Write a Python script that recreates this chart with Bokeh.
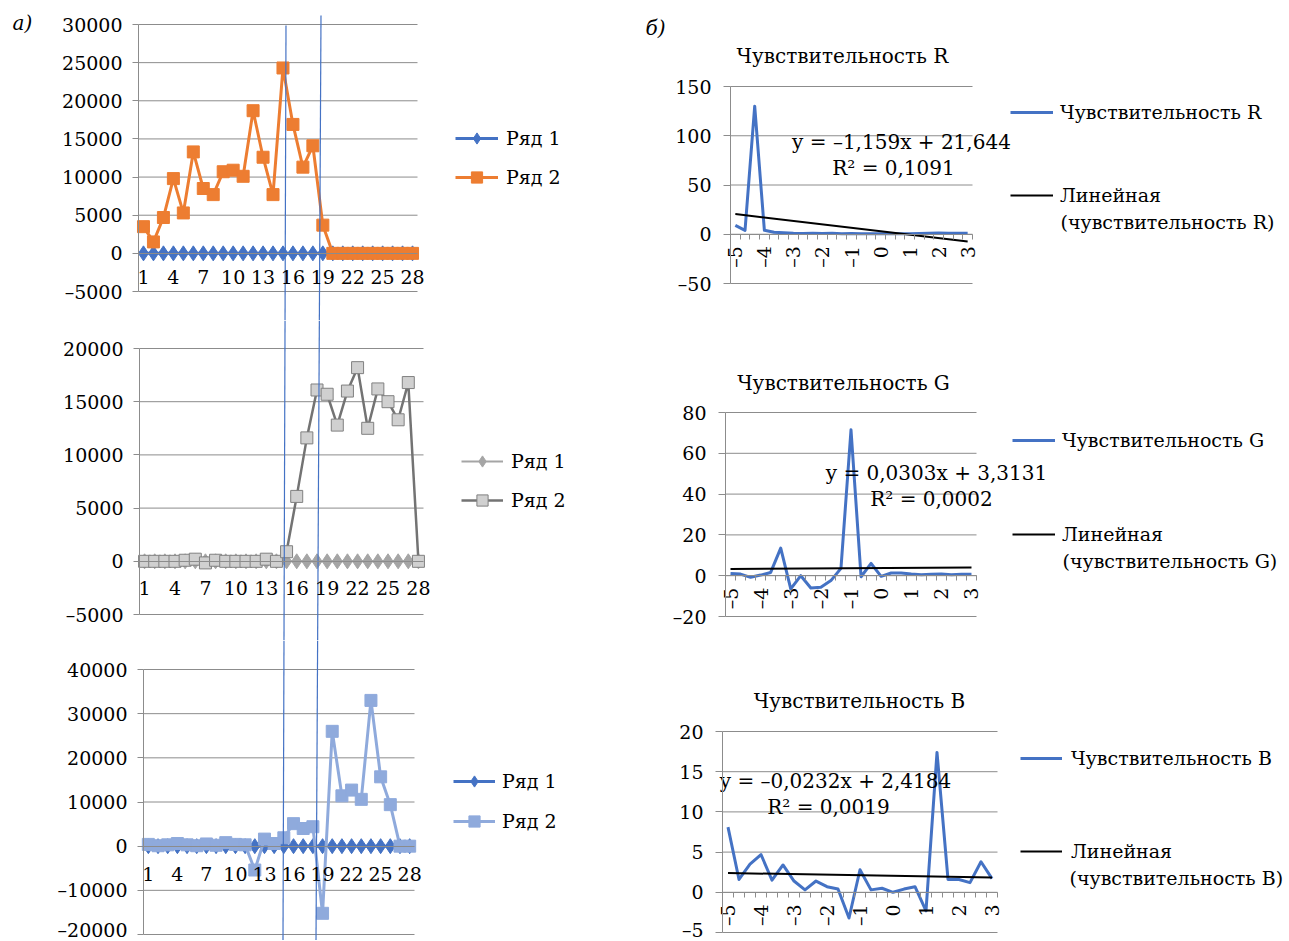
import math
from bokeh.plotting import figure
from bokeh.models import Range1d, FixedTicker, LinearAxis, Legend, LegendItem
from bokeh.layouts import row, column
from bokeh.embed import file_html
from bokeh.resources import INLINE
from bokeh.core.properties import value

# ------------------------------------------------------------------ data
row_categories = [1, 2, 3, 4, 5, 6, 7, 8, 9, 10, 11, 12, 13, 14,
                  15, 16, 17, 18, 19, 20, 21, 22, 23, 24, 25, 26, 27, 28]
row_ticks = [1, 4, 7, 10, 13, 16, 19, 22, 25, 28]
series_names = ["Ряд 1", "Ряд 2"]

a1_ticks = [-5000, 0, 5000, 10000, 15000, 20000, 25000, 30000]
a1_labels = ["–5000", "0", "5000", "10000", "15000", "20000", "25000", "30000"]
a1_row1 = [0, 0, 0, 0, 0, 0, 0, 0, 0, 0, 0, 0, 0, 0,
           0, 0, 0, 0, 0, 0, 0, 0, 0, 0, 0, 0, 0, 0]
a1_row2 = [3500, 1500, 4700, 9800, 5300, 13300, 8500, 7700, 10700, 10900, 10100, 18700, 12600, 7700,
           24300, 16900, 11300, 14100, 3700, 0, 0, 0, 0, 0, 0, 0, 0, 0]

a2_ticks = [-5000, 0, 5000, 10000, 15000, 20000]
a2_labels = ["–5000", "0", "5000", "10000", "15000", "20000"]
a2_row1 = [0, 0, 0, 0, 0, 0, 0, 0, 0, 0, 0, 0, 0, 0,
           0, 0, 0, 0, 0, 0, 0, 0, 0, 0, 0, 0, 0, 0]
a2_row2 = [0, 0, 0, 0, 100, 200, -150, 100, 0, 0, 0, 0, 200, 0,
           900, 6100, 11600, 16100, 15700, 12800, 16000, 18200, 12500, 16200, 15000, 13300, 16800, 0]

a3_ticks = [-20000, -10000, 0, 10000, 20000, 30000, 40000]
a3_labels = ["–20000", "–10000", "0", "10000", "20000", "30000", "40000"]
a3_row1 = [0, 0, 0, 0, 0, 0, 0, 0, 0, 0, 0, 0, 0, 0,
           0, 0, 0, 0, 0, 0, 0, 0, 0, 0, 0, 0, 0, 0]
a3_row2 = [400, 100, 300, 600, 300, 100, 500, 200, 800, 400, 300, -5400, 1600, 600,
           1900, 5100, 4000, 4400, -15200, 26000, 11400, 12700, 10600, 33000, 15700, 9400, 0, 0]

sens_categories = [1, 2, 3, 4, 5, 6, 7, 8, 9, 10, 11, 12, 13,
                   14, 15, 16, 17, 18, 19, 20, 21, 22, 23, 24, 25]
sens_tick_pos = [1, 4, 7, 10, 13, 16, 19, 22, 25]
sens_tick_labels = ["–5", "–4", "–3", "–2", "–1", "0", "1", "2", "3"]
sens_titles = ["Чувствительность R", "Чувствительность G", "Чувствительность B"]
trend_names = ["Линейная", "Линейная", "Линейная"]
trend_notes = ["(чувствительность R)", "(чувствительность G)", "(чувствительность B)"]

sens_R = [9, 4, 130, 4, 2, 1.5, 1, 0.8, 1, 0.7, 0.9, 0.6, 0.8,
          0.5, 0.6, 0.5, 0.4, 0.5, 0.6, 0.7, 0.9, 1.2, 1, 0.9, 1]
sens_G = [1.1, 0.8, -0.8, 0.3, 1.6, 13.5, -6.5, 0, -6, -5.7, -2.4, 3.6, 71.5,
          -0.5, 6, -0.3, 1.3, 1.3, 0.8, 0.5, 0.7, 0.8, 0.5, 0.7, 0.7]
sens_B = [8.1, 1.6, 3.5, 4.7, 1.5, 3.4, 1.4, 0.3, 1.4, 0.7, 0.4, -3.2, 2.8,
          0.3, 0.5, 0, 0.4, 0.7, -2.3, 17.4, 1.6, 1.6, 1.2, 3.8, 1.7]

trend_R = (-1.159, 21.644)
trend_G = (0.0303, 3.3131)
trend_B = (-0.0232, 2.4184)
eq_texts = ["y = –1,159x + 21,644", "y = 0,0303x + 3,3131", "y = –0,0232x + 2,4184"]
r2_texts = ["R² = 0,1091", "R² = 0,0002", "R² = 0,0019"]

r_ticks = [-50, 0, 50, 100, 150]
r_labels = ["–50", "0", "50", "100", "150"]
g_ticks = [-20, 0, 20, 40, 60, 80]
g_labels = ["–20", "0", "20", "40", "60", "80"]
b_ticks = [-5, 0, 5, 10, 15, 20]
b_labels = ["–5", "0", "5", "10", "15", "20"]

panel_marks = ["а)", "б)"]

# ------------------------------------------------------------------ style / layout
FONT = "DejaVu Serif"
FS_AX = "19px"
FS_TX = "20px"
FS_LEG = "19px"
GRID = "#8c8c8c"
BLUE = "#4472C4"

# hand-drawn vertical guide lines (screen coordinates of their ends)
MARK_LINES = [((285.5, 25), (282.5, 941)), ((320.5, 15), (315.5, 941))]


def make_panel(box, area, xlim, ylim):
    bx0, by0, bx1, by1 = box
    px0, pyt, px1, pyb = area
    (x0, x1), (y0, y1) = xlim, ylim
    kx = (x1 - x0) / (px1 - px0)
    ky = (y1 - y0) / (pyb - pyt)
    xs, xe = x0 - (px0 - bx0) * kx, x1 + (bx1 - px1) * kx
    ys, ye = y0 - (by1 - pyb) * ky, y1 + (pyt - by0) * ky
    p = figure(width=bx1 - bx0, height=by1 - by0,
               x_range=Range1d(xs, xe), y_range=Range1d(ys, ye),
               x_axis_location=None, y_axis_location=None, title=None,
               toolbar_location=None, output_backend="svg", min_border=0,
               outline_line_color=None, background_fill_color="white",
               border_fill_color="white")
    p.xgrid.visible = False
    p.ygrid.visible = False

    def to_data(sx, sy):
        return xs + (sx - bx0) * kx, ye - (sy - by0) * ky

    return p, dict(frame_left=bx0, frame_bottom=by1, to_data=to_data, box=box)


def add_y_axis(p, x_at, ticks, labels, bounds, tick_out, standoff):
    ax = LinearAxis(ticker=FixedTicker(ticks=ticks), bounds=bounds, fixed_location=x_at,
                    major_label_overrides=dict(zip(ticks, labels)),
                    axis_line_color=GRID, major_tick_line_color=GRID,
                    major_tick_out=tick_out, major_tick_in=0,
                    minor_tick_line_color=None, major_label_standoff=standoff,
                    major_label_text_font=FONT, major_label_text_font_size=FS_AX,
                    major_label_text_color="black")
    p.add_layout(ax, "left")


def add_legend(p, g, items, left, first_center, step, glyph_w, standoff, item_h=28):
    n = len(items)
    spacing = step - item_h
    top = first_center - item_h / 2
    height = n * item_h + (n - 1) * spacing
    leg = Legend(items=items,
                 location=(left - g["frame_left"], g["frame_bottom"] - (top + height)),
                 orientation="vertical", glyph_width=glyph_w, glyph_height=item_h,
                 label_height=item_h, label_width=10, label_standoff=standoff,
                 spacing=spacing, padding=0, margin=0, border_line_color=None,
                 background_fill_alpha=0, label_text_font=FONT,
                 label_text_font_size=FS_LEG, label_text_color="black")
    p.add_layout(leg)


def add_text(p, g, sx, sy, txt, align="center", size=FS_TX, style="normal"):
    x, y = g["to_data"](sx, sy)
    p.text(x=[x], y=[y], text=[txt], text_font=value(FONT), text_font_size=value(size),
           text_align=align, text_baseline="middle", text_color="black",
           text_font_style=style)


def left_panel(box, area, ylim, ticks, labels, s1, s2, st1, st2, leg, xstand):
    p, g = make_panel(box, area, (0.5, 28.5), ylim)
    p.segment(x0=0.5, x1=28.5, y0=ticks, y1=ticks, line_color=GRID, line_width=1)
    add_y_axis(p, 0.5, ticks, labels, ylim, 6, 10)
    xa = LinearAxis(ticker=FixedTicker(ticks=row_ticks), fixed_location=0, bounds=(0.5, 28.5),
                    axis_line_color=GRID, major_tick_line_color=None, major_tick_out=0,
                    major_tick_in=0, minor_tick_line_color=None, major_label_standoff=xstand,
                    major_label_text_font=FONT, major_label_text_font_size=FS_AX,
                    major_label_text_color="black")
    p.add_layout(xa, "below")
    l1 = p.line(row_categories, s1, line_color=st1["line"], line_width=st1["lw"], line_join="round")
    m1 = p.scatter(row_categories, s1, marker="diamond", size=15,
                   fill_color=st1["fill"], line_color=st1["edge"])
    l2 = p.line(row_categories, s2, line_color=st2["line"], line_width=st2["lw"], line_join="round")
    m2 = p.scatter(row_categories, s2, marker="square", size=12,
                   fill_color=st2["fill"], line_color=st2["edge"])
    bx0, by0, bx1, by1 = box
    for (tx, ty), (ex, ey) in MARK_LINES:
        ya = max(by0, ty)
        yb = by1
        xa_ = tx + (ex - tx) * (ya - ty) / (ey - ty)
        xb_ = tx + (ex - tx) * (yb - ty) / (ey - ty)
        X0, Y0 = g["to_data"](xa_, ya)
        X1, Y1 = g["to_data"](xb_, yb)
        p.segment(x0=[X0], y0=[Y0], x1=[X1], y1=[Y1], line_color=BLUE, line_width=1.2)
    items = [LegendItem(label=series_names[0], renderers=[l1, m1]),
             LegendItem(label=series_names[1], renderers=[l2, m2])]
    add_legend(p, g, items, *leg)
    return p, g


st_blue = dict(line=BLUE, lw=3, fill=BLUE, edge=BLUE)
st_orange = dict(line="#ED7D31", lw=3, fill="#ED7D31", edge="#ED7D31")
st_gray1 = dict(line="#A5A5A5", lw=2, fill="#A5A5A5", edge="#A5A5A5")
st_gray2 = dict(line="#737373", lw=2.5, fill="#D0D0D0", edge="#808080")
st_light = dict(line="#8FAADC", lw=3, fill="#8FAADC", edge="#8FAADC")

pL1, gL1 = left_panel((0, 0, 608, 320), (138, 24, 417, 291), (-5000, 30000), a1_ticks, a1_labels,
                      a1_row1, a1_row2, st_blue, st_orange, (455, 138, 39, 43, 8), 17)
pL2, gL2 = left_panel((0, 320, 608, 640), (139, 348, 423, 614), (-5000, 20000), a2_ticks, a2_labels,
                      a2_row1, a2_row2, st_gray1, st_gray2, (461, 461, 39, 42, 8), 20)
pL3, gL3 = left_panel((0, 640, 608, 940), (143, 669, 414, 934), (-20000, 40000), a3_ticks, a3_labels,
                      a3_row1, a3_row2, st_blue, st_light, (453, 781, 40, 42, 7), 21)
add_text(pL1, gL1, 12, 22, panel_marks[0], align="left", style="italic")


def right_panel(box, area, ylim, ticks, labels, data, trend, k, title_pos, eq_pos, r2_pos, leg, note_pos):
    p, g = make_panel(box, area, (0.5, 25.5), ylim)
    p.segment(x0=0.5, x1=25.5, y0=ticks, y1=ticks, line_color=GRID, line_width=1)
    add_y_axis(p, 0.5, ticks, labels, ylim, 7, 12)
    boundaries = [c - 0.5 for c in sens_categories] + [sens_categories[-1] + 0.5]
    xa = LinearAxis(ticker=FixedTicker(ticks=sens_tick_pos, minor_ticks=boundaries),
                    fixed_location=0, bounds=(0.5, 25.5),
                    major_label_overrides=dict(zip(sens_tick_pos, sens_tick_labels)),
                    major_label_orientation=math.pi / 2,
                    axis_line_color=GRID, major_tick_line_color=None, major_tick_out=0,
                    major_tick_in=0, minor_tick_line_color=GRID, minor_tick_out=5,
                    minor_tick_in=0, major_label_standoff=7,
                    major_label_text_font=FONT, major_label_text_font_size=FS_AX,
                    major_label_text_color="black")
    p.add_layout(xa, "below")
    ln = p.line(sens_categories, data, line_color=BLUE, line_width=3, line_join="round")
    a, b = trend
    xs = [sens_categories[0], sens_categories[-1]]
    tr = p.line(xs, [a * x + b for x in xs], line_color="black", line_width=2)
    add_text(p, g, title_pos[0], title_pos[1], sens_titles[k])
    add_text(p, g, eq_pos[0], eq_pos[1], eq_texts[k])
    add_text(p, g, r2_pos[0], r2_pos[1], r2_texts[k])
    items = [LegendItem(label=sens_titles[k], renderers=[ln]),
             LegendItem(label=trend_names[k], renderers=[tr])]
    add_legend(p, g, items, *leg)
    add_text(p, g, note_pos[0], note_pos[1], trend_notes[k], align="left", size=FS_LEG)
    return p, g


pR1, gR1 = right_panel((608, 0, 1288, 330), (730, 86, 972, 283), (-50, 150), r_ticks, r_labels,
                       sens_R, trend_R, 0, (842, 55), (901, 141), (893, 167),
                       (1010, 112, 83, 43, 7), (1060, 221))
pR2, gR2 = right_panel((608, 330, 1288, 655), (725, 412, 976, 616), (-20, 80), g_ticks, g_labels,
                       sens_G, trend_G, 1, (843, 382), (936, 472), (931, 498),
                       (1012, 440, 94, 43, 7), (1062, 560))
pR3, gR3 = right_panel((608, 655, 1288, 940), (722, 731, 997, 932), (-5, 20), b_ticks, b_labels,
                       sens_B, trend_B, 2, (859, 700), (835, 780), (828, 806),
                       (1020, 758, 93, 42, 9), (1069, 877))
add_text(pR1, gR1, 645, 27, panel_marks[1], align="left", style="italic")

left_col = column(pL1, pL2, pL3, spacing=0)
right_col = column(pR1, pR2, pR3, spacing=0)
layout = row(left_col, right_col, spacing=0)
open("out.html", "w").write(file_html(layout, INLINE))
